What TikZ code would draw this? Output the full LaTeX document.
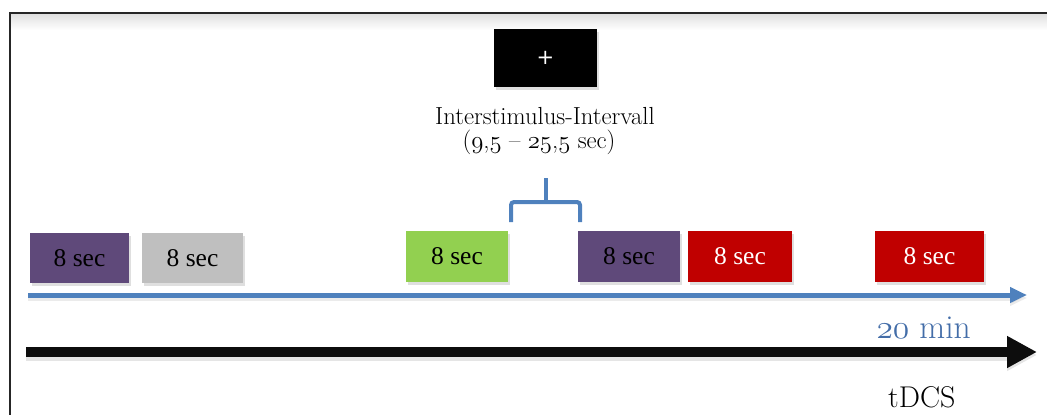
\RequirePackage{fix-cm}
\documentclass[tikz,border=0pt]{standalone}
\usepackage{fontspec}
\newfontfamily\timesf{Liberation Serif}
\newfontfamily\dejasans{DejaVu Sans}
\usetikzlibrary{arrows.meta,shadows}
\newcommand\osn[1]{$\mathnormal{#1}$}
\definecolor{evpurple}{HTML}{5F497A}
\definecolor{evgray}{HTML}{BFBFBF}
\definecolor{evgreen}{HTML}{92D050}
\definecolor{evred}{HTML}{C00000}
\definecolor{lineblue}{HTML}{4F81BD}
\definecolor{textblue}{HTML}{436DA8}
\definecolor{nearblack}{HTML}{0D0D0D}
\tikzset{
  evbox/.style={rectangle, minimum width=101pt, minimum height=50pt, inner sep=0pt,
    font=\timesf\fontsize{25.5}{28}\selectfont,
    drop shadow={opacity=0.25, shadow xshift=2pt, shadow yshift=-3pt}},
  label/.style={inner sep=0pt, align=center},
}
\begin{document}
\begin{tikzpicture}[x=1pt,y=-1pt]
\useasboundingbox (0,0) rectangle (1047,415);
% frame
\shade[top color=black!12, bottom color=white] (11,14) rectangle (1047,30);
\draw[line width=2.2pt, color=black!85] (10,415) -- (10,13) -- (1047,13);

% fixation cross
\node[rectangle, fill=black, minimum width=103pt, minimum height=58pt, inner sep=0pt,
  drop shadow={opacity=0.25, shadow xshift=2pt, shadow yshift=-3pt},
  text=white, font=\dejasans\fontsize{21}{24}\selectfont] (fix) at (545.5,57.5) {+};

% interval label
\node[label, font=\fontsize{24.7}{27}\selectfont, anchor=base] (isi1) at (545,124) {Interstimulus-Intervall};
\node[label, font=\fontsize{24.7}{27}\selectfont, anchor=base] (isi2) at (539,148) {(\osn{9},\osn{5} -- \osn{25},\osn{5} sec)};

% bracket
\coordinate (bl) at (511,222);
\coordinate (blc) at (511,202);
\coordinate (brc) at (580,202);
\coordinate (br) at (580,222);
\coordinate (bm) at (546,202);
\coordinate (bt) at (546,178);
\draw[lineblue, line width=4pt, rounded corners=3pt] (bl) -- (blc) -- (brc) -- (br);
\draw[lineblue, line width=4pt] (bm) -- (bt);

% event boxes
\node[evbox, fill=evpurple, minimum width=99pt] (e1) at (79.5,258) {8 sec};
\node[evbox, fill=evgray] (e2) at (192.5,258) {8 sec};
\node[evbox, fill=evgreen, minimum width=102pt, minimum height=51pt] (e3) at (457,256.5) {8 sec};
\node[evbox, fill=evpurple, minimum width=102pt, minimum height=51pt] (e4) at (629,256.5) {8 sec};
\node[evbox, fill=evred, minimum width=104pt, minimum height=51pt, text=white] (e5) at (740,256.5) {8 sec};
\node[evbox, fill=evred, minimum width=109pt, minimum height=51pt, text=white] (e6) at (929.5,256.5) {8 sec};

% blue time axis
\coordinate (ba0) at (28,295);
\coordinate (ba1) at (1027,295);
\draw[lineblue, line width=5pt, -{Triangle[length=17pt,width=15pt]},
  preaction={draw=black, opacity=0.08, line width=6pt, transform canvas={yshift=-3pt}}] (ba0) -- (ba1);
\node[label, text=textblue, font=\fontsize{33.5}{36}\selectfont, anchor=base east] (min) at (971,338) {\osn{20} min};

% black tDCS axis
\coordinate (ka0) at (26,352);
\coordinate (ka1) at (1037,352);
\draw[nearblack, line width=10pt, -{Triangle[length=30pt,width=30pt]},
  preaction={draw=black, opacity=0.1, line width=11pt, transform canvas={yshift=-3pt}}] (ka0) -- (ka1);
\node[label, font=\fontsize{30}{32}\selectfont, anchor=base west] (tdcs) at (888,407) {tDCS};
\end{tikzpicture}
\end{document}
